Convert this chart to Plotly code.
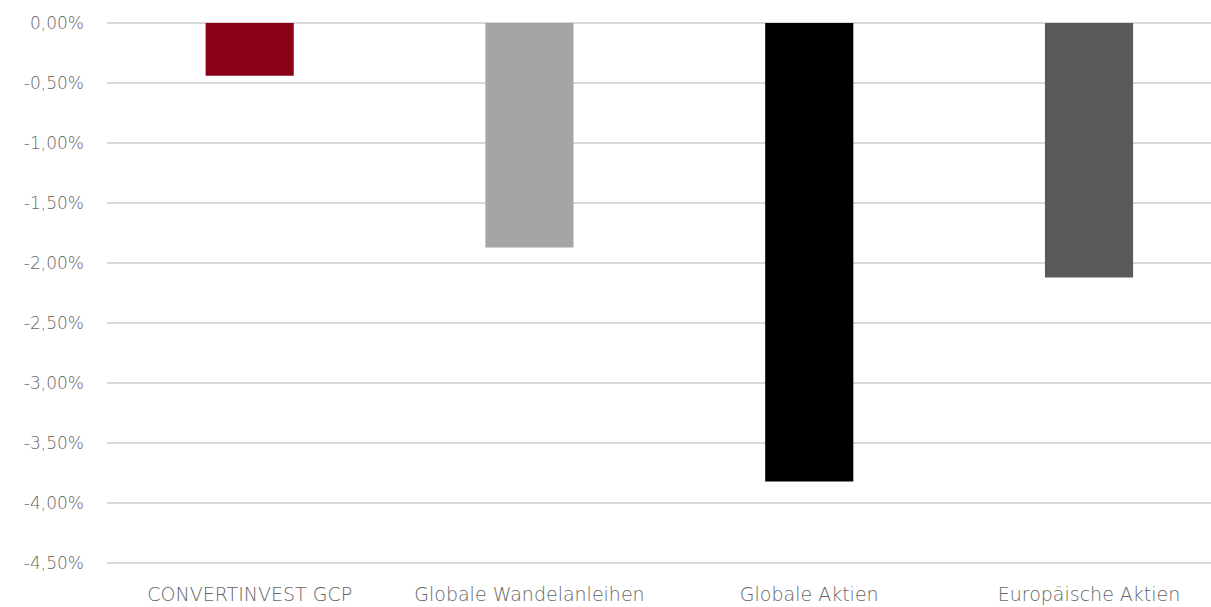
import plotly.graph_objects as go

categories = ["CONVERTINVEST GCP", "Globale Wandelanleihen", "Globale Aktien", "Europäische Aktien"]
values = [-0.44, -1.87, -3.82, -2.12]
colors = ["#8a0019", "#a5a5a5", "#000000", "#595959"]

tick_vals = [0, -0.5, -1.0, -1.5, -2.0, -2.5, -3.0, -3.5, -4.0, -4.5]
tick_text = ["0,00%", "-0,50%", "-1,00%", "-1,50%", "-2,00%", "-2,50%",
             "-3,00%", "-3,50%", "-4,00%", "-4,50%"]

fig = go.Figure(
    go.Bar(
        x=categories,
        y=values,
        marker=dict(color=colors, line=dict(width=0)),
        width=0.315,
    )
)

font_family = "'DejaVu Sans', sans-serif"
y_font = dict(family=font_family, size=17, color="#666666", weight=200)
x_font = dict(family=font_family, size=19, color="#666666", weight=200)

fig.update_layout(
    width=1211,
    height=607,
    margin=dict(l=107, r=0, t=20, b=41),
    paper_bgcolor="white",
    plot_bgcolor="white",
    showlegend=False,
    font=y_font,
)

fig.update_xaxes(
    range=[-0.51, 3.436],
    showgrid=False,
    showline=False,
    zeroline=False,
    ticks="",
    ticklabelstandoff=15,
    tickfont=x_font,
)

fig.update_yaxes(
    range=[-4.525, 0.025],
    tickvals=tick_vals,
    ticktext=tick_text,
    showgrid=True,
    gridcolor="#d9d9d9",
    gridwidth=1.5,
    zeroline=False,
    showline=False,
    ticks="",
    ticklabelstandoff=22,
    tickfont=y_font,
)

fig.write_html("out.html")
